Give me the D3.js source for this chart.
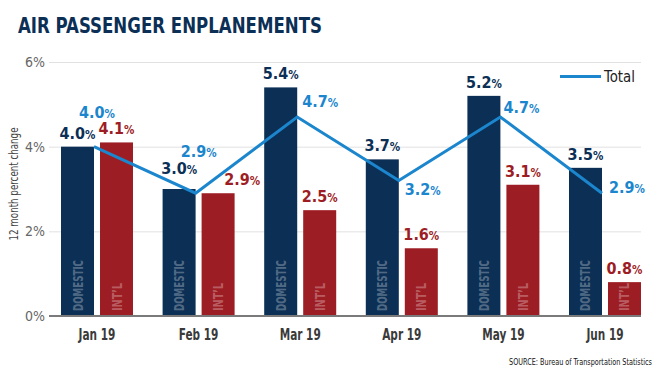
<!DOCTYPE html>
<html>
<head>
<meta charset="utf-8">
<script src="https://cdn.jsdelivr.net/npm/d3@7"></script>
<style>
  body { margin: 0; background: #fff; }
  svg { display: block; }
  .cond { font-family: "DejaVu Sans Condensed", "DejaVu Sans", sans-serif; }
</style>
</head>
<body>
<div id="chart"></div>
<script>
// Chart data
const months = ["Jan 19", "Feb 19", "Mar 19", "Apr 19", "May 19", "Jun 19"];
const domestic = [4.0, 3.0, 5.4, 3.7, 5.2, 3.5];
const intl = [4.1, 2.9, 2.5, 1.6, 3.1, 0.8];
const total = [4.0, 2.9, 4.7, 3.2, 4.7, 2.9];
const yTicks = [0, 2, 4, 6];

// Label placement tweaks (layout only)
const totalLabelPos = [
    { dx: 3, dy: -29, anchor: "middle" },
    { dx: 3, dy: -36, anchor: "middle" },
    { dx: 5, dy: -10, anchor: "start" },
    { dx: 6, dy: 14, anchor: "start" },
    { dx: 3, dy: -4, anchor: "start" },
    { dx: 7, dy: 0, anchor: "start" }
];
const intlLabelShift = [0, 24, 0, 0, 0, 0];
const domLabelLift = [8, 15, 8, 8, 8, 8];

const width = 660;
const height = 375;
const navy = "#0b2f55";
const red = "#9d1d24";
const blue = "#1b86cd";

const svg = d3.select("#chart")
    .append("svg")
    .attr("width", width)
    .attr("height", height);

// Title
svg.append("text")
    .attr("class", "cond")
    .attr("x", 18)
    .attr("y", 33)
    .attr("textLength", 304)
    .attr("lengthAdjust", "spacingAndGlyphs")
    .style("font-size", "22px")
    .style("font-weight", "bold")
    .style("fill", navy)
    .text("AIR PASSENGER ENPLANEMENTS");

// Scales
const x0 = d3.scaleBand()
    .domain(months)
    .range([61, 641])
    .paddingInner(0.2913)
    .paddingOuter(0);

const x1 = d3.scaleBand()
    .domain(["dom", "intl"])
    .range([0, x0.bandwidth()])
    .paddingInner(0.1538);

const y = d3.scaleLinear()
    .domain([0, 6])
    .range([316, 62]);

// Gridlines + y axis
const yAxis = d3.axisLeft(y)
    .tickValues(yTicks)
    .tickSizeInner(-(641 - 49))
    .tickSizeOuter(0)
    .tickPadding(4)
    .tickFormat(d => d + "%");

const gy = svg.append("g")
    .attr("transform", "translate(49,0)")
    .call(yAxis);
gy.select(".domain").remove();
gy.selectAll(".tick line").attr("stroke", "#e1e1e1").attr("stroke-width", 1);
gy.selectAll(".tick text")
    .attr("class", "cond")
    .style("font-size", "14px")
    .style("font-weight", "300")
    .style("fill", "#666");

// Y axis title
svg.append("text")
    .attr("class", "cond")
    .attr("text-anchor", "middle")
    .attr("transform", "translate(18,184) rotate(-90)")
    .attr("textLength", 113)
    .attr("lengthAdjust", "spacingAndGlyphs")
    .style("font-size", "12px")
    .style("fill", "#444")
    .text("12 month percent change");

// Bars
const groups = svg.append("g")
    .selectAll("g")
    .data(months)
    .join("g")
    .attr("transform", d => `translate(${x0(d)},0)`);

groups.append("rect")
    .attr("x", x1("dom"))
    .attr("width", x1.bandwidth())
    .attr("y", (d, i) => y(domestic[i]))
    .attr("height", (d, i) => y(0) - y(domestic[i]))
    .attr("fill", navy);

groups.append("rect")
    .attr("x", x1("intl"))
    .attr("width", x1.bandwidth())
    .attr("y", (d, i) => y(intl[i]))
    .attr("height", (d, i) => y(0) - y(intl[i]))
    .attr("fill", red);

// Text inside bars
groups.append("text")
    .attr("class", "cond")
    .attr("transform", `translate(${x1("dom") + x1.bandwidth() / 2 + 5},311) rotate(-90)`)
    .attr("textLength", 51)
    .attr("lengthAdjust", "spacingAndGlyphs")
    .style("font-size", "14px")
    .style("font-weight", "bold")
    .style("fill", "#fff")
    .style("fill-opacity", 0.3)
    .text("DOMESTIC");

groups.append("text")
    .attr("class", "cond")
    .attr("transform", `translate(${x1("intl") + x1.bandwidth() / 2 + 5},311) rotate(-90)`)
    .attr("textLength", 28)
    .attr("lengthAdjust", "spacingAndGlyphs")
    .style("font-size", "14px")
    .style("font-weight", "bold")
    .style("fill", "#fff")
    .style("fill-opacity", 0.3)
    .text("INT\u2019L");

// Zero baseline
svg.append("line")
    .attr("x1", 49)
    .attr("x2", 641)
    .attr("y1", y(0))
    .attr("y2", y(0))
    .attr("stroke", "#7a7a7a")
    .attr("stroke-width", 2);

// Month labels
svg.append("g")
    .selectAll("text")
    .data(months)
    .join("text")
    .attr("class", "cond")
    .attr("transform", d => `translate(${x0(d) + x0.bandwidth() / 2},340) scale(0.78,1)`)
    .attr("text-anchor", "middle")
    .style("font-size", "15px")
    .style("font-weight", "bold")
    .style("fill", "#3a3a3a")
    .text(d => d);

// value label helper: bold number with a small "%"
function valueLabel(sel, value) {
    sel.append("tspan").style("font-size", "16px").text(value.toFixed(1));
    sel.append("tspan").style("font-size", "11.5px").text("%");
}

groups.append("text")
    .attr("class", "cond")
    .attr("x", x1("dom") + x1.bandwidth() / 2)
    .attr("y", (d, i) => y(domestic[i]) - domLabelLift[i])
    .attr("text-anchor", "middle")
    .style("font-weight", "bold")
    .style("fill", navy)
    .each(function (d, i) { valueLabel(d3.select(this), domestic[i]); });

groups.append("text")
    .attr("class", "cond")
    .attr("x", (d, i) => x1("intl") + x1.bandwidth() / 2 + intlLabelShift[i])
    .attr("y", (d, i) => y(intl[i]) - 8)
    .attr("text-anchor", "middle")
    .style("font-weight", "bold")
    .style("fill", red)
    .each(function (d, i) { valueLabel(d3.select(this), intl[i]); });

// Total line
const lineX = d => x0(d) + x1("dom") + x1.bandwidth();
const line = d3.line()
    .x((d, i) => lineX(months[i]))
    .y(d => y(d));

svg.append("path")
    .datum(total)
    .attr("d", line)
    .attr("fill", "none")
    .attr("stroke", blue)
    .attr("stroke-width", 3)
    .attr("stroke-linejoin", "miter");

svg.append("g")
    .selectAll("text")
    .data(total)
    .join("text")
    .attr("class", "cond")
    .attr("x", (d, i) => lineX(months[i]) + totalLabelPos[i].dx)
    .attr("y", (d, i) => y(d) + totalLabelPos[i].dy)
    .attr("text-anchor", (d, i) => totalLabelPos[i].anchor)
    .style("font-weight", "bold")
    .style("fill", blue)
    .each(function (d) { valueLabel(d3.select(this), d); });

// Legend
svg.append("line")
    .attr("x1", 560)
    .attr("x2", 601)
    .attr("y1", 76.5)
    .attr("y2", 76.5)
    .attr("stroke", blue)
    .attr("stroke-width", 3);

svg.append("text")
    .attr("class", "cond")
    .attr("x", 604)
    .attr("y", 82)
    .attr("textLength", 31)
    .attr("lengthAdjust", "spacingAndGlyphs")
    .style("font-size", "15px")
    .style("fill", "#222")
    .text("Total");

// Source (squeezed horizontally to fit the narrow original face)
svg.append("text")
    .attr("class", "cond")
    .attr("transform", "translate(652,365) scale(0.76,1)")
    .attr("text-anchor", "end")
    .style("font-size", "9.5px")
    .style("fill", "#111")
    .text("SOURCE: Bureau of Transportation Statistics");
</script>
</body>
</html>
